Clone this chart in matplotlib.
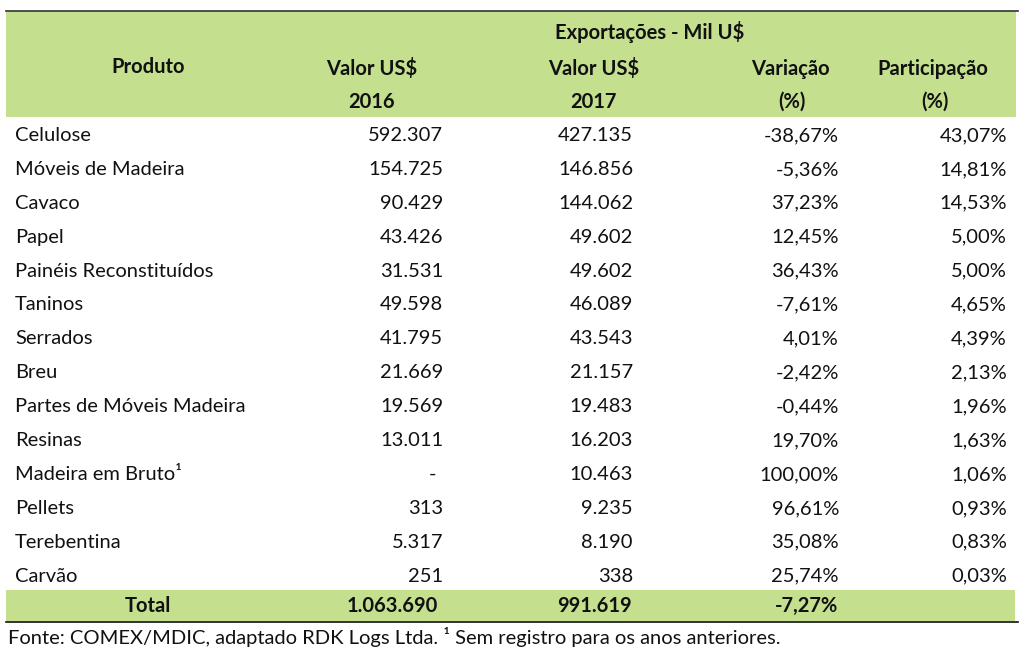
import matplotlib
matplotlib.use("Agg")
import matplotlib.pyplot as plt
from matplotlib.patches import Rectangle

produtos = ["Celulose", "Móveis de Madeira", "Cavaco", "Papel", "Painéis Reconstituídos",
            "Taninos", "Serrados", "Breu", "Partes de Móveis Madeira", "Resinas",
            "Madeira em Bruto¹", "Pellets", "Terebentina", "Carvão"]
valor_2016 = ["592.307", "154.725", "90.429", "43.426", "31.531", "49.598", "41.795",
              "21.669", "19.569", "13.011", "-", "313", "5.317", "251"]
valor_2017 = ["427.135", "146.856", "144.062", "49.602", "49.602", "46.089", "43.543",
              "21.157", "19.483", "16.203", "10.463", "9.235", "8.190", "338"]
variacao = ["-38,67%", "-5,36%", "37,23%", "12,45%", "36,43%", "-7,61%", "4,01%",
            "-2,42%", "-0,44%", "19,70%", "100,00%", "96,61%", "35,08%", "25,74%"]
participacao = ["43,07%", "14,81%", "14,53%", "5,00%", "5,00%", "4,65%", "4,39%",
                "2,13%", "1,96%", "1,63%", "1,06%", "0,93%", "0,83%", "0,03%"]
total = ["Total", "1.063.690", "991.619", "-7,27%", ""]
fonte = "Fonte: COMEX/MDIC, adaptado RDK Logs Ltda. ¹ Sem registro para os anos anteriores."

GREEN = "#C4DF8E"
FONT = ["Lato", "DejaVu Sans"]
FS = 14.5

fig = plt.figure(figsize=(10.24, 6.52), dpi=100)
ax = fig.add_axes([0, 0, 1, 1])
ax.set_xlim(0, 1024)
ax.set_ylim(652, 0)
ax.axis("off")

def t(x, y, s, ha="center", bold=False):
    ax.text(x, y, s, ha=ha, va="center", fontsize=FS, family=FONT,
            fontweight="bold" if bold else "normal", color="#111111")

# header
ax.add_patch(Rectangle((6, 11), 1010, 106, color=GREEN, lw=0))
ax.plot([6, 1018], [10.5, 10.5], color="#333333", lw=1.2)
t(650, 32, "Exportações - Mil U$", bold=True)
t(148, 67, "Produto", bold=True)
t(372, 69, "Valor US$", bold=True)
t(372, 102, "2016", bold=True)
t(594, 69, "Valor US$", bold=True)
t(593, 102, "2017", bold=True)
t(790, 69, "Variação", bold=True)
t(792, 102, "(%)", bold=True)
t(933, 69, "Participação", bold=True)
t(935, 102, "(%)", bold=True)

# rows
y0, dy = 135.5, 33.9
for i, p in enumerate(produtos):
    y = y0 + i * dy
    t(15, y, p, ha="left")
    if valor_2016[i] == "-":
        t(433, y, valor_2016[i])
    else:
        t(443, y, valor_2016[i], ha="right")
    t(633, y, valor_2017[i], ha="right")
    t(839, y, variacao[i], ha="right")
    t(1007, y, participacao[i], ha="right")

# total row
ax.add_patch(Rectangle((6, 590), 1009, 31, color=GREEN, lw=0))
ax.plot([6, 1018], [622, 622], color="#111111", lw=1.2)
yt = 606
t(148, yt, total[0], bold=True)
t(438, yt, total[1], ha="right", bold=True)
t(632, yt, total[2], ha="right", bold=True)
t(838, yt, total[3], ha="right", bold=True)

t(8, 637, fonte, ha="left")

fig.savefig("out.png", dpi=100)
